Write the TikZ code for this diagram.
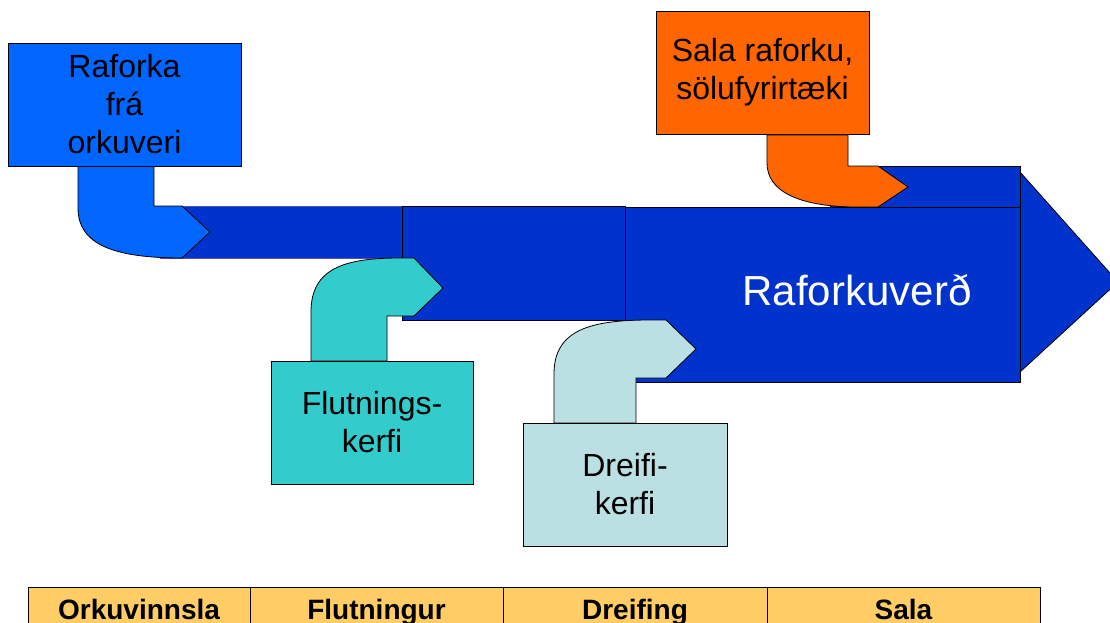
\documentclass[tikz,border=0pt]{standalone}
\usepackage{fontspec}
\setmainfont{Liberation Sans}
\definecolor{srcblue}{HTML}{0066FF}
\definecolor{band}{HTML}{0033CC}
\definecolor{teal}{HTML}{33CCCC}
\definecolor{lightb}{HTML}{BBE0E3}
\definecolor{orng}{HTML}{FF6600}
\definecolor{tbl}{HTML}{FFCC66}
\begin{document}
\begin{tikzpicture}[x=1pt,y=-1pt,
  box/.style={draw=black, line width=0.8pt, inner sep=0pt, align=center,
    font=\fontsize{32}{38}\selectfont},
  bandpart/.style={fill=band, draw=black, line width=0.8pt},
  pipe/.style={draw=black, line width=0.8pt},
  cell/.style={draw=black, line width=0.8pt, fill=tbl, inner sep=0pt,
    minimum height=50pt, text height=20pt, text depth=6pt,
    font=\fontsize{28}{32}\selectfont\bfseries}]
\useasboundingbox (0,0) rectangle (1110,623);
\begin{scope}
\clip (0,0) rectangle (1110,623);
% big arrow head
\draw[bandpart] (1020,172) -- (1118,282) -- (1020,372) -- cycle;
% upper band
\draw[bandpart] (830,166) rectangle (1020,207);
% segment 3
\draw[bandpart] (625,207) rectangle (1020,382);
% segment 2
\draw[bandpart] (402,206) rectangle (625,320);
% segment 1
\fill[band] (160,206) rectangle (402,258);
\draw[blue!35!gray, line width=0.6pt] (160,206) -- (402,206) (160,258) -- (402,258);
\draw[black, line width=0.8pt] (402,206) -- (402,258);
% pipes
\draw[pipe, fill=srcblue] (78,165) -- (78,208) .. controls (78,245) and (115,258) .. (182,258)
  -- (210,232) -- (182,206) -- (154,206) -- (154,165) -- cycle;
\draw[pipe, fill=teal] (311,361) -- (311,312) .. controls (311,268) and (345,258) .. (400,258)
  -- (414,258) -- (443,288) -- (414,316) -- (387,316) -- (387,361) -- cycle;
\draw[pipe, fill=lightb] (554,423) -- (554,374) .. controls (554,330) and (590,320) .. (650,320)
  -- (666,320) -- (696,349) -- (666,378) -- (636,378) -- (636,423) -- cycle;
\draw[pipe, fill=orng] (767,135) -- (767,163) .. controls (767,192) and (800,206) .. (853,207)
  -- (878,207) -- (908,187) -- (878,166) -- (848,166) -- (848,135) -- cycle;
% boxes
\node[box, fill=srcblue, minimum width=233pt, minimum height=123pt] (src) at (124.5,104.5) {Raforka\\frá\\orkuveri};
\node[box, fill=orng, minimum width=213pt, minimum height=123pt] (sala) at (762.5,72.5) {Sala raforku,\\sölufyrirtæki};
\node[box, fill=teal, minimum width=202pt, minimum height=123pt] (flut) at (372,422.5) {Flutnings-\\kerfi};
\node[box, fill=lightb, minimum width=204pt, minimum height=123pt] (dreif) at (625,484.5) {Dreifi-\\kerfi};
\node[text=white, font=\fontsize{42}{48}\selectfont, anchor=base, inner sep=0pt] (verd) at (857,305) {Raforkuverð};
% table
\node[cell, minimum width=222pt] (c1) at (139,612) {Orkuvinnsla};
\node[cell, minimum width=253pt] (c2) at (376.5,612) {Flutningur};
\node[cell, minimum width=264pt] (c3) at (635,612) {Dreifing};
\node[cell, minimum width=273pt] (c4) at (903.5,612) {Sala};
\end{scope}
\end{tikzpicture}
\end{document}
